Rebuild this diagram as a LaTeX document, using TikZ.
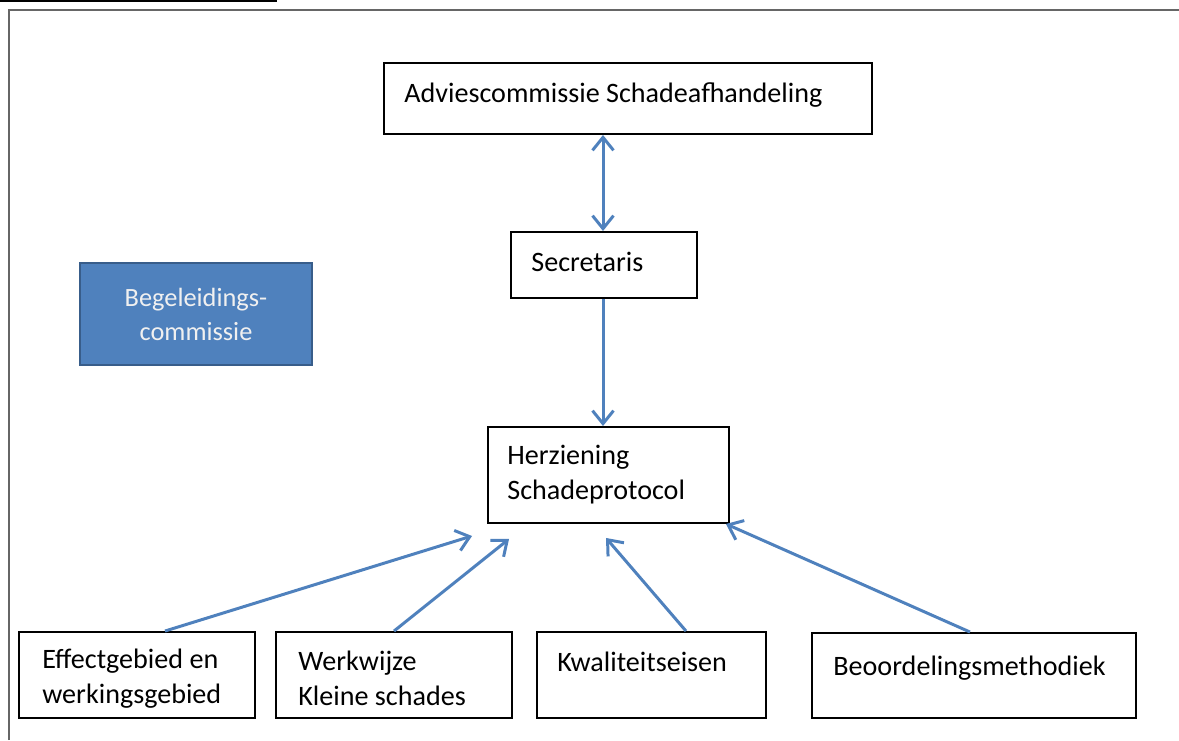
\documentclass[tikz,border=0pt]{standalone}
\usepackage{fontspec}
\setmainfont{Carlito}
\usetikzlibrary{arrows.meta}

\definecolor{lijnblauw}{HTML}{4F81BD}
\definecolor{randblauw}{HTML}{385D8A}

\begin{document}
\begin{tikzpicture}[
    box/.style={draw=black, line width=1.1pt, minimum height=1.72cm, inner sep=0pt},
    label/.style={anchor=west, align=left, inner sep=0pt, font=\fontsize{16}{19.8}\selectfont},
    pijl/.style={draw=lijnblauw, line width=1.7pt, -{Straight Barb[length=2.6mm,width=4.2mm]}},
    dubbelpijl/.style={pijl, {Straight Barb[length=2.6mm,width=4.2mm]}-{Straight Barb[length=2.6mm,width=4.2mm]}}
]
    \useasboundingbox (0,0) rectangle (23.58,14.8);

    \draw[black, line width=1.1pt] (0,14.78) -- (5.54,14.78);
    \draw[gray!80!black, line width=0.9pt] (0.18,0) -- (0.18,14.6) -- (23.58,14.6);

    \node[box, minimum width=9.76cm, minimum height=1.42cm] (advies) at (12.56,12.83) {};
    \node[label] (adviestxt) at (8.08,12.9) {Adviescommissie Schadeafhandeling};

    \node[box, minimum width=3.72cm, minimum height=1.32cm] (secr) at (12.08,9.50) {};
    \node[label] (secrtxt) at (10.62,9.56) {Secretaris};

    \node[draw=randblauw, fill=lijnblauw, line width=1.7pt, minimum width=4.64cm, minimum height=2.04cm,
          text=white!94!black, align=center, font=\fontsize{15}{19.3}\selectfont] (begel) at (3.92,8.52)
          {Begeleidings-\\commissie};

    \node[box, minimum width=4.82cm, minimum height=1.92cm] (herz) at (12.17,5.30) {};
    \node[label] (herztxt) at (10.14,5.31) {Herziening\\Schadeprotocol};

    \node[box, minimum width=4.72cm] (effect) at (2.74,1.30) {};
    \node[label] (effecttxt) at (0.84,1.23) {Effectgebied en\\werkingsgebied};

    \node[box, minimum width=4.72cm] (werk) at (7.88,1.30) {};
    \node[label] (werktxt) at (5.96,1.23) {Werkwijze\\Kleine schades};

    \node[box, minimum width=4.58cm] (kwal) at (13.03,1.30) {};
    \node[label] (kwaltxt) at (11.14,1.56) {Kwaliteitseisen};

    \node[box, minimum width=6.48cm, minimum height=1.70cm] (beoord) at (19.48,1.29) {};
    \node[label] (beoordtxt) at (16.66,1.44) {Beoordelingsmethodiek};

    \coordinate (pEffect) at ([shift={(-0.30,-0.24)}]herz.south west);
    \coordinate (pWerk) at ([shift={(0.44,-0.30)}]herz.south west);
    \coordinate (pKwal) at ([shift={(-0.05,-0.28)}]herz.south);
    \coordinate (pBeoord) at ([shift={(-0.08,0)}]herz.south east);

    \draw[dubbelpijl] ([xshift=-0.02cm]secr.north) -- ([xshift=-0.02cm]secr.north |- advies.south);
    \draw[pijl] ([xshift=-0.02cm]secr.south) -- ([xshift=-0.02cm]secr.south |- herz.north);

    \draw[pijl] ([xshift=0.56cm]effect.north) -- (pEffect);
    \draw[pijl] (werk.north) -- (pWerk);
    \draw[pijl] ([xshift=0.69cm]kwal.north) -- (pKwal);
    \draw[pijl] ([xshift=-0.08cm]beoord.north) -- (pBeoord);
\end{tikzpicture}
\end{document}
